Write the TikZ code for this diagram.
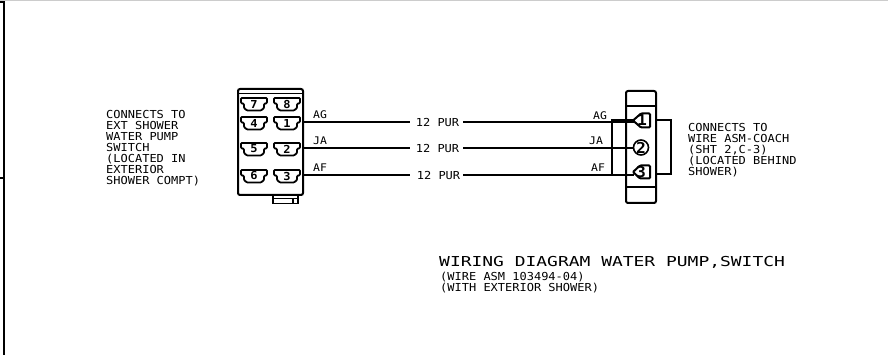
\documentclass[tikz,border=0pt]{standalone}
\usepackage{fontspec}
\newfontfamily\cadfont[FakeStretch=1.09]{DejaVu Sans Mono}
\newfontfamily\titlefont[FakeStretch=1.31]{DejaVu Sans Mono}
\usepackage{tikz}
\usetikzlibrary{positioning, arrows, arrows.meta}

\tikzset{
  cadtext/.style={font=\cadfont\fontsize{11}{11}\selectfont, inner sep=0pt, anchor=west, align=left},
  wirelabel/.style={font=\cadfont\fontsize{10.5}{11}\selectfont, inner sep=0pt},
  wire/.style={line width=2pt},
  housing/.style={draw, line width=2pt, rounded corners=2pt, inner sep=0pt},
  pinnum/.style={font=\cadfont\bfseries\fontsize{11}{10}\selectfont, inner sep=0pt},
  termnum/.style={font=\cadfont\bfseries\fontsize{15}{14}\selectfont, inner sep=0pt}
}

\newcommand{\cavity}[4]{%
  \draw[line width=1.8pt, rounded corners=0.8pt] (#2-13,#3-6) -- (#2+13,#3-6) -- (#2+13,#3-1) -- (#2+10,#3)
    -- (#2+10,#3+4) -- (#2+7,#3+6.5) -- (#2-7,#3+6.5) -- (#2-10,#3+4) -- (#2-10,#3) -- (#2-13,#3-1) -- cycle;
  \node[pinnum] (#1) at (#2,#3) {#4};
}

\begin{document}
\begin{tikzpicture}[x=1pt, y=-1pt]
\useasboundingbox (0,0) rectangle (888,355);
% frame
\draw[gray!40, line width=1.5pt] (0,0.5) -- (888,0.5);
\draw[line width=2.6pt] (4,1.5) -- (4,355);
\draw[line width=1.5pt] (0,2) -- (4,2);
\draw[line width=1.5pt] (0,178) -- (4,178);
% switch connector
\node[housing, minimum width=65pt, minimum height=106pt] (switch) at (270.5,142) {};
\draw[line width=1.8pt] (238,93.5) -- (303,93.5);
\draw[line width=1.8pt] (273,195) -- (273,203.5) -- (298,203.5) -- (298,195);
\draw[line width=1.8pt] (273,198.5) -- (293,198.5);
\draw[line width=1.8pt] (293,198.5) rectangle (298,203.5);
\cavity{pinG}{254}{104}{7}
\cavity{pinH}{287}{104}{8}
\cavity{pinD}{254}{123}{4}
\cavity{pinA}{287}{123}{1}
\cavity{pinE}{254}{149}{5}
\cavity{pinB}{287}{149}{2}
\cavity{pinF}{254}{176}{6}
\cavity{pinC}{287}{176}{3}
% coach connector
\node[housing, minimum width=30pt, minimum height=112pt] (coach) at (641,147) {};
\draw[line width=1.8pt] (626,106) -- (656,106);
\draw[line width=1.8pt] (626,187) -- (656,187);
% terminals
\node[termnum] (termA) at (642,120.5) {1};
\node[termnum, draw, circle, line width=1.6pt, minimum size=15pt] (termB) at (641,147.5) {2};
\node[termnum] (termC) at (641,172) {3};
\draw[line width=2pt, rounded corners=1pt] (633,120.5) -- (641,113.5) -- (650,113.5) -- (650,127.5) -- (641,127.5) -- cycle;
\draw[line width=2pt, rounded corners=1pt] (633,172) -- (640,165.5) -- (650,165.5) -- (650,178.5) -- (640,178.5) -- cycle;
\coordinate (termAw) at (634,122);
\coordinate (termCw) at (634,175);
% brackets
\coordinate (brkA) at (612,120);
\coordinate (brkB) at (612,175);
\draw[line width=1.8pt] (634,120) -- (brkA) -- (brkB) -- (634,175);
\draw[line width=1.8pt] (656,120) -- (671,120) -- (671,174) -- (656,174);
% wires
\node[wirelabel, font=\cadfont\fontsize{11}{11}\selectfont] (purA) at (437.5,122) {12 PUR};
\node[wirelabel, font=\cadfont\fontsize{11}{11}\selectfont] (purB) at (437.5,148) {12 PUR};
\node[wirelabel, font=\cadfont\fontsize{11}{11}\selectfont] (purC) at (438.5,175) {12 PUR};
\draw[wire] (switch.east |- purA) -- (410,122);
\draw[wire] (switch.east |- purB) -- (410,148);
\draw[wire] (switch.east |- purC) -- (410,175);
\draw[wire] (463,122) -- (termAw);
\draw[wire] (463,148) -- (termB.west |- purB);
\draw[wire] (463,175) -- (termCw);
% labels
\node[wirelabel, anchor=west] at (313,115) {AG};
\node[wirelabel, anchor=west] at (313,141) {JA};
\node[wirelabel, anchor=west] at (313,168) {AF};
\node[wirelabel, anchor=west] at (593,116) {AG};
\node[wirelabel, anchor=west] at (589,141) {JA};
\node[wirelabel, anchor=west] at (591,168) {AF};
% notes
\node[cadtext] (noteswitch) at (106,148.5) {CONNECTS TO\\EXT SHOWER\\WATER PUMP\\SWITCH\\(LOCATED IN\\EXTERIOR\\SHOWER COMPT)};
\node[cadtext] (notecoach) at (688,150.5) {CONNECTS TO\\WIRE ASM-COACH\\(SHT 2,C-3)\\(LOCATED BEHIND\\SHOWER)};
\node[inner sep=0pt, anchor=west, font=\titlefont\fontsize{13.7}{15}\selectfont] (title) at (439,262) {WIRING DIAGRAM WATER PUMP,SWITCH};
\node[cadtext, below=4pt of title.south west, anchor=north west, xshift=1pt] (subtitle) {(WIRE ASM 103494-04)\\(WITH EXTERIOR SHOWER)};
\end{tikzpicture}
\end{document}
